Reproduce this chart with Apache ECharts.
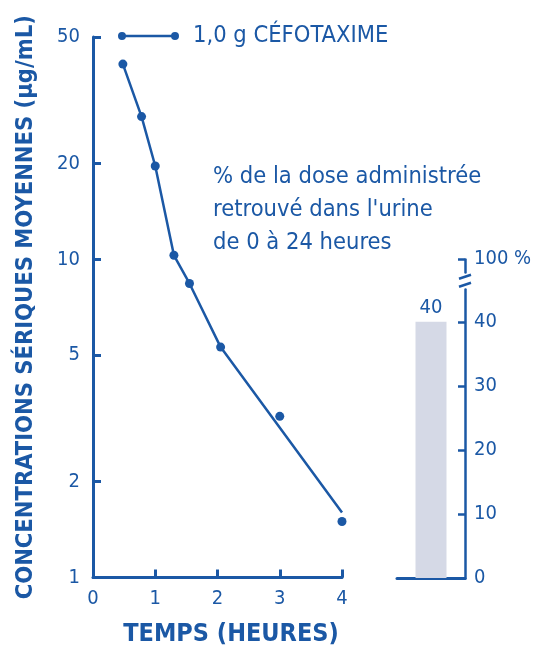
<!DOCTYPE html>
<html><head><meta charset="utf-8">
<script src="https://cdn.jsdelivr.net/npm/echarts@6/dist/echarts.min.js"></script>
<style>html,body{margin:0;padding:0;background:#fff}#c{width:538px;height:652px}</style>
</head><body><div id="c"></div>
<script>
// ---- data ----
const seriesName = '1,0 g CÉFOTAXIME';
const timesHours = [0.48, 0.78, 1.0, 1.3, 1.55, 2.05, 3.0, 4.0];
const concentrations = [41.1, 28.1, 19.65, 10.3, 8.4, 5.3, 3.21, 1.5];
const curveTimes = [0.48, 0.78, 1.0, 1.3, 1.55, 2.05, 4.0];
const curveValues = [41.1, 28.1, 19.65, 10.3, 8.4, 5.3, 1.6];
const concTicks = [1, 2, 5, 10, 20, 50];
const urineCategory = ['0–24 h'];
const urinePercent = [40];
const pctTicks = [0, 10, 20, 30, 40, 100];
const noteLines = ['% de la dose administrée', "retrouvé dans l'urine", 'de 0 à 24 heures'];

const BLUE = '#1b58a5';
const FONT = "'Liberation Sans Narrow', 'Arial Narrow', 'DejaVu Sans Condensed', sans-serif";

const chart = echarts.init(document.getElementById('c'), null, {renderer: 'canvas'});
const G2L = 397, G2W = 68;

const option = {
  animation: false,
  backgroundColor: '#fff',
  textStyle: {fontFamily: FONT, color: BLUE},
  title: {
    text: noteLines.join('\n'), left: 213, top: 160, padding: 0,
    textStyle: {fontFamily: FONT, fontSize: 23.5, lineHeight: 33, fontWeight: 'normal', color: BLUE}
  },
  legend: {
    data: [seriesName], left: 118, top: 24, padding: 0,
    icon: 'path://M0,5A4,4 0 1,1 8,5A4,4 0 1,1 0,5ZM53,5A4,4 0 1,1 61,5A4,4 0 1,1 53,5ZM4,3.8L57,3.8L57,6.2L4,6.2Z',
    itemWidth: 61, itemHeight: 8,
    textStyle: {fontFamily: FONT, fontSize: 23.5, color: BLUE, padding: [0, 0, 0, 9]},
    selectedMode: false
  },
  grid: [
    {left: 93, top: 37, width: 249, height: 540.5, outerBoundsMode: 'none', containLabel: false},
    {left: G2L, top: 259, width: G2W, height: 319, outerBoundsMode: 'none', containLabel: false}
  ],
  xAxis: [
    {
      gridIndex: 0, type: 'value', min: 0, max: 4, interval: 1,
      name: 'TEMPS (HEURES)', nameLocation: 'middle', nameGap: 44,
      nameTextStyle: {fontFamily: FONT, fontSize: 25, fontWeight: 'bold', color: BLUE, padding: [0, 0, 0, 27]},
      axisLine: {show: true, onZero: false, lineStyle: {color: BLUE, width: 3}},
      axisTick: {show: true, inside: true, length: 8, lineStyle: {color: BLUE, width: 3}},
      axisLabel: {fontFamily: FONT, fontSize: 20, color: BLUE, margin: 11},
      splitLine: {show: false}
    },
    {
      gridIndex: 1, type: 'category', data: urineCategory,
      axisLine: {show: true, onZero: false, lineStyle: {color: BLUE, width: 3}},
      axisTick: {show: false}, axisLabel: {show: false}, splitLine: {show: false}
    }
  ],
  yAxis: [
    {
      gridIndex: 0, type: 'log', logBase: 10, min: 1, max: 50,
      name: 'CONCENTRATIONS SÉRIQUES MOYENNES (µg/mL)', nameLocation: 'middle', nameGap: 55, nameRotate: 90,
      nameTextStyle: {fontFamily: FONT, fontSize: 23.5, fontWeight: 'bold', color: BLUE},
      axisLine: {show: true, onZero: false, lineStyle: {color: BLUE, width: 3}},
      axisTick: {show: true, inside: true, length: 8, customValues: concTicks, lineStyle: {color: BLUE, width: 3}},
      axisLabel: {fontFamily: FONT, fontSize: 20, color: BLUE, margin: 13, customValues: concTicks},
      splitLine: {show: false}, minorTick: {show: false}
    },
    {
      gridIndex: 1, type: 'value', position: 'right', min: 0, max: 100, interval: 10,
      breaks: [{start: 45, end: 98, gap: 2.8}],
      breakArea: {show: false},
      axisLine: {show: true, onZero: false, lineStyle: {color: BLUE, width: 2.5}},
      axisTick: {show: true, inside: true, length: 7, customValues: pctTicks, lineStyle: {color: BLUE, width: 2.5}},
      axisLabel: {fontFamily: FONT, fontSize: 20, color: BLUE, margin: 9, customValues: pctTicks,
        formatter: v => (v === 100 ? '100 %' : String(v))},
      splitLine: {show: false}
    }
  ],
  series: [
    {
      name: seriesName, type: 'line', xAxisIndex: 0, yAxisIndex: 0,
      data: curveTimes.map((t, i) => [t, curveValues[i]]),
      showSymbol: false, lineStyle: {color: BLUE, width: 2.5}, itemStyle: {color: BLUE}, clip: false
    },
    {
      name: 'points', type: 'scatter', xAxisIndex: 0, yAxisIndex: 0,
      data: timesHours.map((t, i) => [t, concentrations[i]]),
      symbolSize: 9, itemStyle: {color: BLUE, opacity: 1}, clip: false
    },
    {
      name: 'urine', type: 'bar', xAxisIndex: 1, yAxisIndex: 1,
      data: urinePercent, barWidth: 31,
      itemStyle: {color: '#d5d9e6'},
      label: {show: true, position: 'top', distance: 4, fontFamily: FONT, fontSize: 20, color: BLUE}
    }
  ]
};
chart.setOption(option);

// axis break marks "//" on the right axis
const yTop = chart.convertToPixel({yAxisIndex: 1}, 98);
const yBot = chart.convertToPixel({yAxisIndex: 1}, 45);
const ax = G2L + G2W;
const mid = (yTop + yBot) / 2;
chart.setOption({
  graphic: [
    {type: 'rect', shape: {x: ax - 3, y: mid - 3, width: 6, height: 6}, style: {fill: '#fff'}, z: 100},
    {type: 'line', shape: {x1: ax - 6, y1: mid - 2, x2: ax + 6, y2: mid - 6}, style: {stroke: BLUE, lineWidth: 2.5}, z: 101},
    {type: 'line', shape: {x1: ax - 6, y1: mid + 6, x2: ax + 6, y2: mid + 2}, style: {stroke: BLUE, lineWidth: 2.5}, z: 101}
  ]
});
</script>
</body></html>
